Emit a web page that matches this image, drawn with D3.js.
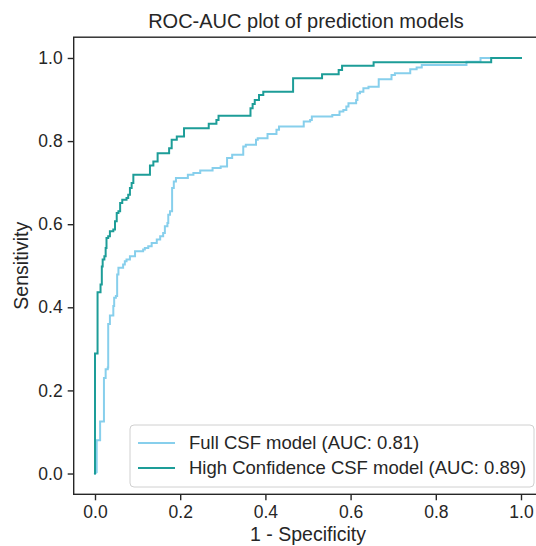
<!DOCTYPE html>
<html>
<head>
<meta charset="utf-8">
<script src="https://cdn.jsdelivr.net/npm/d3@7"></script>
<style>
  html, body { margin: 0; padding: 0; background: #fff; }
  svg { display: block; font-family: "Liberation Sans", Arial, sans-serif; }
</style>
</head>
<body>
<svg id="chart" width="536" height="546"></svg>
<script>
// ---- data ----
const title = "ROC-AUC plot of prediction models";
const xLabel = "1 - Specificity";
const yLabel = "Sensitivity";
const tickValues = [0.0, 0.2, 0.4, 0.6, 0.8, 1.0];
const seriesNames = ["Full CSF model (AUC: 0.81)", "High Confidence CSF model (AUC: 0.89)"];
const seriesColors = ["#87cfec", "#1d9d98"];

// Full CSF model ROC (fpr, tpr)
const fullFpr = [0,0.004,0.004,0.012,0.012,0.021,0.021,0.025,0.025,0.03,0.03,0.031,0.031,0.035,0.035,0.043,0.043,0.045,0.045,0.049,0.049,0.052,0.052,0.055,0.055,0.066,0.066,0.07,0.07,0.074,0.074,0.082,0.082,0.094,0.094,0.113,0.113,0.117,0.117,0.125,0.125,0.133,0.133,0.145,0.145,0.153,0.153,0.16,0.16,0.164,0.164,0.17,0.17,0.172,0.172,0.176,0.176,0.181,0.181,0.185,0.185,0.19,0.19,0.218,0.218,0.231,0.231,0.247,0.247,0.276,0.276,0.295,0.295,0.31,0.31,0.322,0.322,0.348,0.348,0.354,0.354,0.378,0.378,0.382,0.382,0.405,0.405,0.426,0.426,0.432,0.432,0.49,0.49,0.505,0.505,0.509,0.509,0.557,0.557,0.574,0.574,0.583,0.583,0.59,0.59,0.595,0.595,0.613,0.613,0.616,0.616,0.622,0.622,0.63,0.63,0.642,0.642,0.666,0.666,0.696,0.696,0.704,0.704,0.74,0.74,0.755,0.755,0.767,0.767,0.872,0.872,0.905,0.905,1];
const fullTpr = [0,0.003,0.08,0.08,0.125,0.125,0.23,0.23,0.251,0.251,0.255,0.255,0.36,0.36,0.38,0.38,0.403,0.403,0.423,0.423,0.427,0.427,0.479,0.479,0.495,0.495,0.503,0.503,0.511,0.511,0.515,0.515,0.523,0.523,0.535,0.535,0.539,0.539,0.543,0.543,0.547,0.547,0.555,0.555,0.563,0.563,0.571,0.571,0.579,0.579,0.595,0.595,0.603,0.603,0.623,0.623,0.631,0.631,0.687,0.687,0.703,0.703,0.711,0.711,0.719,0.719,0.723,0.723,0.729,0.729,0.735,0.735,0.739,0.739,0.759,0.759,0.767,0.767,0.787,0.787,0.791,0.791,0.803,0.803,0.807,0.807,0.817,0.817,0.827,0.827,0.835,0.835,0.847,0.847,0.851,0.851,0.859,0.859,0.863,0.863,0.871,0.871,0.875,0.875,0.883,0.883,0.891,0.891,0.899,0.899,0.915,0.915,0.919,0.919,0.927,0.927,0.931,0.931,0.949,0.949,0.959,0.959,0.963,0.963,0.973,0.973,0.977,0.977,0.983,0.983,0.991,0.991,1,1];

// High Confidence CSF model ROC (fpr, tpr)
const hcFpr = [0,0,0.006,0.006,0.013,0.013,0.016,0.016,0.018,0.018,0.022,0.022,0.025,0.025,0.027,0.027,0.031,0.031,0.035,0.035,0.043,0.043,0.047,0.047,0.051,0.051,0.055,0.055,0.059,0.059,0.064,0.064,0.074,0.074,0.078,0.078,0.082,0.082,0.086,0.086,0.09,0.09,0.129,0.129,0.137,0.137,0.147,0.147,0.174,0.174,0.18,0.18,0.192,0.192,0.209,0.209,0.267,0.267,0.285,0.285,0.29,0.29,0.365,0.365,0.37,0.37,0.375,0.375,0.385,0.385,0.395,0.395,0.465,0.465,0.533,0.533,0.572,0.572,0.58,0.58,0.654,0.654,0.93,0.93,1];
const hcTpr = [0,0.289,0.289,0.436,0.436,0.455,0.455,0.498,0.498,0.515,0.515,0.523,0.523,0.543,0.543,0.567,0.567,0.571,0.571,0.583,0.583,0.587,0.587,0.607,0.607,0.627,0.627,0.631,0.631,0.651,0.651,0.659,0.659,0.663,0.663,0.671,0.671,0.687,0.687,0.699,0.699,0.719,0.719,0.741,0.741,0.751,0.751,0.771,0.771,0.783,0.783,0.803,0.803,0.811,0.811,0.831,0.831,0.842,0.842,0.851,0.851,0.861,0.861,0.879,0.879,0.889,0.889,0.899,0.899,0.911,0.911,0.919,0.919,0.951,0.951,0.961,0.961,0.971,0.971,0.981,0.981,0.99,0.99,1,1];

// ---- layout ----
const W = 536, H = 546;
const axL = 73.7, axR = 542.3, axT = 37.2, axB = 494.3;
const ink = "#262626";
const svg = d3.select("#chart");

const x = d3.scaleLinear().domain([-0.05, 1.05]).range([axL, axR]);
const y = d3.scaleLinear().domain([-0.05, 1.05]).range([axB, axT]);

const series = [
  { name: seriesNames[0], color: seriesColors[0], pts: fullFpr.map((f, i) => [f, fullTpr[i]]) },
  { name: seriesNames[1], color: seriesColors[1], pts: hcFpr.map((f, i) => [f, hcTpr[i]]) }
];

// curves
svg.append("clipPath").attr("id", "clip").append("rect")
  .attr("x", axL).attr("y", axT).attr("width", axR - axL).attr("height", axB - axT);
const line = d3.line().x(d => x(d[0])).y(d => y(d[1]));
svg.append("g").attr("clip-path", "url(#clip)")
  .selectAll("path").data(series).join("path")
  .attr("d", d => line(d.pts))
  .attr("fill", "none")
  .attr("stroke", d => d.color)
  .attr("stroke-width", 2)
  .attr("stroke-linejoin", "miter")
  .attr("stroke-linecap", "square");

// axes
const fmt = d3.format(".1f");
const xAxis = svg.append("g").attr("transform", `translate(0,${axB})`)
  .call(d3.axisBottom(x).tickValues(tickValues).tickFormat(fmt).tickSize(6).tickSizeOuter(0).tickPadding(5));
const yAxis = svg.append("g").attr("transform", `translate(${axL},0)`)
  .call(d3.axisLeft(y).tickValues(tickValues).tickFormat(fmt).tickSize(6).tickSizeOuter(0).tickPadding(5));
[xAxis, yAxis].forEach(g => {
  g.select(".domain").remove();
  g.selectAll(".tick line").attr("stroke", ink).attr("stroke-width", 1.4);
  g.selectAll(".tick text").attr("fill", ink).style("font-size", "17.5px")
    .style("font-family", '"Liberation Sans", Arial, sans-serif');
});

// spines (box)
svg.append("rect").attr("x", axL).attr("y", axT)
  .attr("width", axR - axL).attr("height", axB - axT)
  .attr("fill", "none").attr("stroke", ink).attr("stroke-width", 1.4);

// title & labels
const cx = (axL + axR) / 2;
svg.append("text").attr("x", cx - 2).attr("y", 28).attr("text-anchor", "middle")
  .attr("fill", ink).style("font-size", "20px").text(title);
svg.append("text").attr("x", cx).attr("y", 541).attr("text-anchor", "middle")
  .attr("fill", ink).style("font-size", "19.5px").text(xLabel);
svg.append("text").attr("transform", `translate(28,${(axT + axB) / 2}) rotate(-90)`)
  .attr("text-anchor", "middle").attr("fill", ink).style("font-size", "19.5px").text(yLabel);

// legend
const lgX = 130, lgY = 425, lgW = 404, lgH = 62;
const lg = svg.append("g");
lg.append("rect").attr("x", lgX).attr("y", lgY).attr("width", lgW).attr("height", lgH)
  .attr("rx", 4).attr("fill", "#fff").attr("fill-opacity", 0.85)
  .attr("stroke", "#d0d0d0").attr("stroke-width", 1);
series.forEach((s, i) => {
  const yy = lgY + 18 + i * 25;
  lg.append("line").attr("x1", lgX + 8).attr("x2", lgX + 45).attr("y1", yy).attr("y2", yy)
    .attr("stroke", s.color).attr("stroke-width", 2);
  lg.append("text").attr("x", lgX + 59).attr("y", yy).attr("dy", "0.35em")
    .attr("fill", ink).style("font-size", "18.5px").text(s.name);
});
</script>
</body>
</html>
